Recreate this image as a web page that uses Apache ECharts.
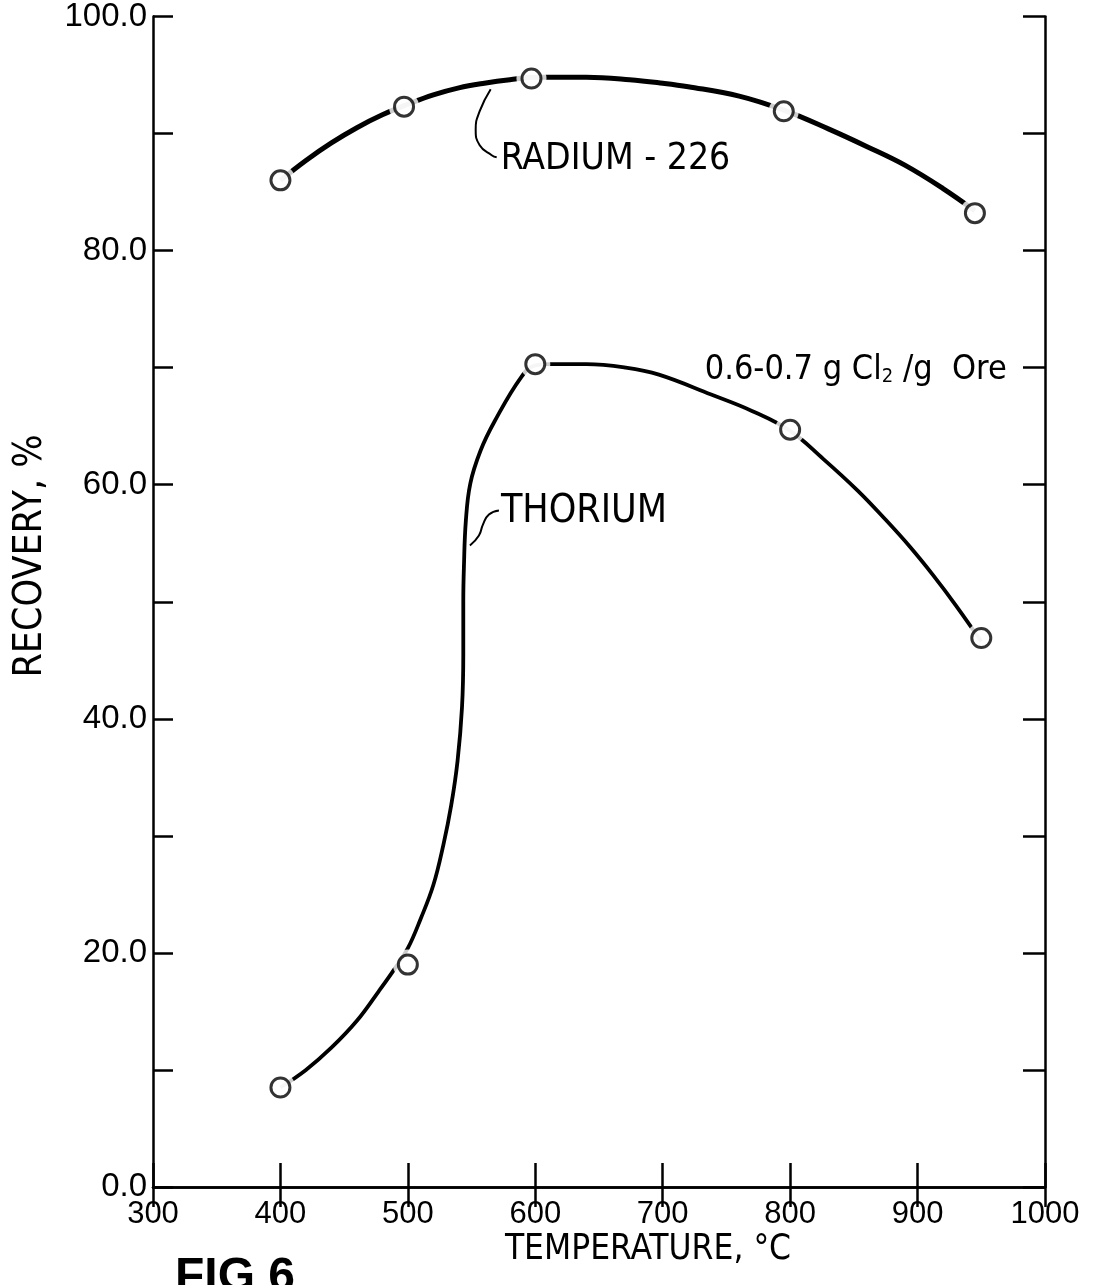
<!DOCTYPE html>
<html><head><meta charset="utf-8">
<script src="https://cdn.jsdelivr.net/npm/echarts@6/dist/echarts.min.js"></script>
<style>html,body{margin:0;padding:0;background:#fff}#c{width:1105px;height:1285px}</style>
</head><body><div id="c"></div>
<script>
// ---- data ----
const radiumTemp = [400, 497, 597, 795, 945];
const radiumRec  = [86.0, 92.3, 94.7, 91.9, 83.2];
const thoriumTemp = [400, 500, 600, 800, 950];
const thoriumRec  = [8.5, 19.0, 70.3, 64.7, 46.9];

// hand-drawn fitted curves (traced points)
const radiumCurveT = [400, 420, 440, 460, 480, 500, 520, 540, 560, 580, 600, 640, 674, 700, 720, 760, 795, 830, 860, 890, 920, 945];
const radiumCurveR = [86.0, 87.7, 89.2, 90.5, 91.6, 92.5, 93.3, 93.9, 94.3, 94.6, 94.8, 94.8, 94.6, 94.3, 94.0, 93.2, 92.0, 90.4, 88.9, 87.3, 85.3, 83.4];
const thoriumCurveT = [400, 420, 440, 460, 477, 490, 500, 510, 520, 528, 534, 539, 542.5, 543.5, 543.5, 544, 545.5, 549, 557, 568, 589, 600, 612, 640, 671, 697, 738, 770, 800, 825, 853, 875, 894, 912, 930, 950];
const thoriumCurveR = [8.5, 10.0, 11.9, 14.2, 16.7, 18.7, 20.4, 22.9, 25.8, 29.3, 32.6, 36.4, 41.0, 45.5, 50.0, 53.0, 56.9, 60.1, 62.9, 65.4, 69.2, 70.2, 70.3, 70.3, 70.0, 69.4, 67.7, 66.3, 64.6, 62.3, 59.5, 57.0, 54.7, 52.3, 49.7, 46.6];

const xMin = 300, xMax = 1000, xStep = 100;
const yMin = 0, yMax = 100, yStep = 10, yLabelStep = 20;

const FONT = '"Liberation Sans", Arial, Helvetica, sans-serif';
const NARROW = '"Liberation Sans Narrow", "DejaVu Sans Condensed", "Liberation Sans", sans-serif';
const BLACK = '#000';

const pairs = (a, b) => a.map((v, i) => [v, b[i]]);

const chart = echarts.init(document.getElementById('c'), null, {renderer: 'canvas'});

const lineAx = {show: true, lineStyle: {color: BLACK, width: 2.5}};
const tickAx = (len) => ({show: true, inside: true, length: len, lineStyle: {color: BLACK, width: 2.5}});

const option = {
  animation: false,
  backgroundColor: '#fff',
  grid: {left: 153, right: 60, top: 10, bottom: 98},
  xAxis: [
    {type: 'value', min: xMin, max: xMax, interval: xStep, position: 'bottom',
     axisLine: lineAx, axisTick: tickAx(24), splitLine: {show: false},
     axisLabel: {show: true, fontSize: 31, color: BLACK, margin: 12, fontFamily: FONT,
                 showMinLabel: true, showMaxLabel: true, formatter: v => String(v)}},
    {type: 'value', min: xMin, max: xMax, interval: xStep, position: 'top',
     axisLine: lineAx, axisTick: tickAx(20), splitLine: {show: false}, axisLabel: {show: false}}
  ],
  yAxis: [
    {type: 'value', min: yMin, max: yMax, interval: yStep, position: 'left',
     axisLine: lineAx, axisTick: tickAx(20), splitLine: {show: false},
     axisLabel: {show: true, fontSize: 33, color: BLACK, margin: 6, fontFamily: FONT,
                 formatter: v => (v % yLabelStep === 0 ? v.toFixed(1) : '')}},
    {type: 'value', min: yMin, max: yMax, interval: yStep, position: 'right',
     axisLine: lineAx, axisTick: tickAx(22), splitLine: {show: false}, axisLabel: {show: false}}
  ],
  series: [
    {name: 'Radium-226 curve', type: 'line', data: pairs(radiumCurveT, radiumCurveR),
     showSymbol: false, smooth: 0.4, lineStyle: {color: BLACK, width: 5}, z: 2, silent: true},
    {name: 'Thorium curve', type: 'line', data: pairs(thoriumCurveT, thoriumCurveR),
     showSymbol: false, smooth: 0.4, lineStyle: {color: BLACK, width: 3.8}, z: 2, silent: true},
    {name: 'halo', type: 'scatter', data: pairs(radiumTemp, radiumRec).concat(pairs(thoriumTemp, thoriumRec)),
     symbol: 'circle', symbolSize: 30, itemStyle: {color: '#fff'}, z: 3, silent: true},
    {name: 'Radium-226', type: 'scatter', data: pairs(radiumTemp, radiumRec),
     symbol: 'circle', symbolSize: 19, itemStyle: {color: '#fff', borderColor: BLACK, borderWidth: 3}, z: 4},
    {name: 'Thorium', type: 'scatter', data: pairs(thoriumTemp, thoriumRec),
     symbol: 'circle', symbolSize: 19, itemStyle: {color: '#fff', borderColor: BLACK, borderWidth: 3}, z: 4}
  ]
};
chart.setOption(option);

// ---- annotations anchored to data coordinates ----
const px = (x, y) => chart.convertToPixel({gridIndex: 0}, [x, y]);
const a1 = px(565, 94.3);           // radium leader anchor on the curve
const a2 = px(544, 54.8);           // thorium leader anchor on the curve
const a3 = px(970, 69.8);           // chlorine note, right edge
const off = (p, dx, dy) => [p[0] + dx, p[1] + dy];

chart.setOption({
  graphic: [
    {type: 'polyline', shape: {points: [off(a1,0,6), off(a1,-11,28), off(a1,-15,46), off(a1,-11,62), off(a1,1,72), off(a1,6,74)], smooth: 0.5},
     style: {stroke: BLACK, lineWidth: 2, fill: null}, z: 10},
    {type: 'text', x: a1[0] + 10, y: a1[1] + 76,
     style: {text: 'RADIUM - 226', fontSize: 37, fontFamily: NARROW, fill: BLACK, verticalAlign: 'middle', align: 'left'}, z: 10},
    {type: 'polyline', shape: {points: [off(a2,6,0), off(a2,15,-10), off(a2,19,-21), off(a2,25,-31), off(a2,35,-35)], smooth: 0.5},
     style: {stroke: BLACK, lineWidth: 2, fill: null}, z: 10},
    {type: 'text', x: a2[0] + 37, y: a2[1] - 34,
     style: {text: 'THORIUM', fontSize: 39, fontFamily: NARROW, fill: BLACK, verticalAlign: 'middle', align: 'left'}, z: 10},
    {type: 'text', x: a3[0], y: a3[1],
     style: {text: '0.6-0.7 g Cl{s|2} /g  Ore', fontSize: 34, fontFamily: NARROW, fill: BLACK, verticalAlign: 'middle', align: 'right',
             rich: {s: {fontSize: 20, fontFamily: NARROW, padding: [13, 0, 0, 0]}}}, z: 10},
    // axis titles
    {type: 'text', x: 648, y: 1250,
     style: {text: 'TEMPERATURE, °C', fontSize: 35, fontFamily: NARROW, fill: BLACK, verticalAlign: 'middle', align: 'center'}, z: 10},
    {type: 'text', x: 31, y: 556, rotation: Math.PI / 2,
     style: {text: 'RECOVERY, %', fontSize: 39, fontFamily: NARROW, fill: BLACK, verticalAlign: 'middle', align: 'center'}, z: 10},
    {type: 'text', x: 175, y: 1254,
     style: {text: 'FIG 6', fontSize: 48, fontWeight: 'bold', fontFamily: FONT, fill: BLACK, verticalAlign: 'top', align: 'left'}, z: 10}
  ]
});
</script>
</body></html>
